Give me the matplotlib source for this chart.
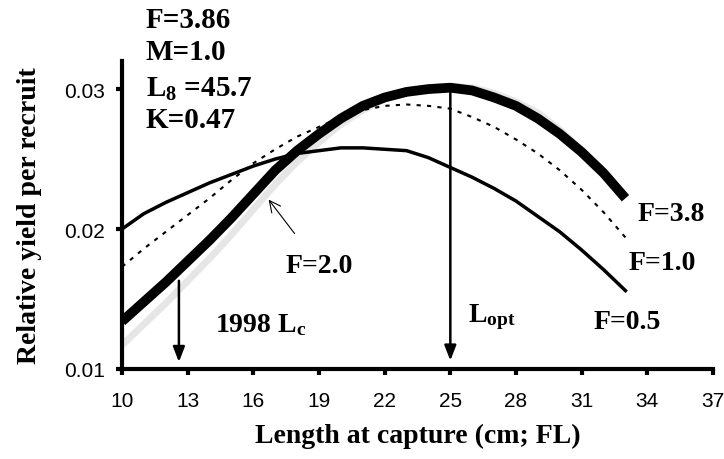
import numpy as np
import matplotlib
matplotlib.use("Agg")
import matplotlib.pyplot as plt

plt.rcParams["font.family"] = "Liberation Serif"
plt.rcParams["mathtext.fontset"] = "custom"
plt.rcParams["mathtext.rm"] = "Liberation Serif:bold"
plt.rcParams["mathtext.it"] = "Liberation Serif:bold"
plt.rcParams["mathtext.bf"] = "Liberation Serif:bold"

length = np.arange(10, 34)

ypr_f05 = [0.0200, 0.0211, 0.0219, 0.0226, 0.0233, 0.0239, 0.0245, 0.0250,
           0.0254, 0.0256, 0.0258, 0.0258, 0.0257, 0.0256, 0.0251, 0.0244,
           0.0237, 0.0229, 0.0220, 0.0209, 0.0198, 0.0185, 0.0171, 0.0156]
ypr_f10 = [0.0173, 0.0186, 0.0198, 0.0210, 0.0222, 0.0235, 0.0247, 0.0257,
           0.0266, 0.0273, 0.0280, 0.0285, 0.0288, 0.0289, 0.0288, 0.0286,
           0.0280, 0.0273, 0.0264, 0.0254, 0.0242, 0.0228, 0.0212, 0.0194]
ypr_f20 = [0.0117, 0.0132, 0.0147, 0.0163, 0.0179, 0.0196, 0.0214, 0.0232,
           0.0248, 0.0262, 0.0275, 0.0285, 0.0293, 0.0298, 0.0301, 0.0302,
           0.0301, 0.0297, 0.0291, 0.0283, 0.0271, 0.0256, 0.0240, 0.0222]
ypr_f38 = [0.0134, 0.0148, 0.0162, 0.0177, 0.0192, 0.0208, 0.0225, 0.0242,
           0.0256, 0.0268, 0.0279, 0.0288, 0.0294, 0.0298, 0.0300, 0.0301,
           0.0299, 0.0294, 0.0288, 0.0279, 0.0268, 0.0255, 0.0240, 0.0222]

x_ticks = [10, 13, 16, 19, 22, 25, 28, 31, 34, 37]
y_ticks = [0.01, 0.02, 0.03]

lc_1998 = 12.6
l_opt = 25.0

fig = plt.figure(figsize=(7.24, 4.6), dpi=100)
ax = fig.add_axes([0.1685, 0.1957, 0.8163, 0.6693])

ax.plot(length, ypr_f20, color="#e6e6e6", lw=5, solid_capstyle="butt", zorder=2)
ax.plot(length, ypr_f38, color="black", lw=7, solid_capstyle="butt", zorder=3)
ax.plot(length, ypr_f05, color="black", lw=2.5, zorder=4)
ax.plot(length, ypr_f10, color="black", lw=1.5, linestyle=(0, (2, 3)), zorder=4)

ax.set_xlim(10, 37)
ax.set_ylim(0.01, 0.032)
ax.set_xticks(x_ticks)
ax.set_yticks(y_ticks)
ax.set_xticklabels([str(t) for t in x_ticks], family="Liberation Sans", fontsize=15)
ax.set_yticklabels(["0.01", "0.02", "0.03"], family="Liberation Sans", fontsize=15)
ax.tick_params(width=3, length=4)
ax.tick_params(axis="x", pad=12)
ax.tick_params(axis="y", pad=8)
for side in ["top", "right"]:
    ax.spines[side].set_visible(False)
for side in ["left", "bottom"]:
    ax.spines[side].set_linewidth(3)

ax.set_xlabel("Length at capture (cm; FL)", fontsize=20, fontweight="bold", labelpad=9)
ax.set_ylabel("Relative yield per recruit", fontsize=20, fontweight="bold", labelpad=16)

# arrows
arrow_kw = dict(arrowstyle="-|>,head_width=0.35,head_length=0.9", color="black", lw=1.8,
                shrinkA=0, shrinkB=0)
ax.annotate("", xy=(lc_1998, 0.0105), xytext=(lc_1998, 0.0163), arrowprops=arrow_kw)
ax.annotate("", xy=(l_opt, 0.0106), xytext=(l_opt, 0.0301), arrowprops=arrow_kw)
ax.annotate("F=2.0", xy=(16.7, 0.0221), xytext=(19.0, 0.0174),
            fontsize=20, fontweight="bold", ha="center", va="center",
            arrowprops=dict(arrowstyle="->", color="black", lw=0.8,
                            shrinkA=15, shrinkB=0))

tkw = dict(fontsize=20, fontweight="bold", va="center")
ax.text(14.25, 0.0132, r"1998 L$_\mathrm{c}$", ha="left", **tkw)
ax.text(25.8, 0.0138, r"L$_\mathrm{opt}$", ha="left", **tkw)
ax.text(35.1, 0.0211, "F=3.8", ha="center", **tkw)
ax.text(34.7, 0.0176, "F=1.0", ha="center", **tkw)
ax.text(33.1, 0.0134, "F=0.5", ha="center", **tkw)

ptx = 146 / 724
pkw = dict(fontsize=21, fontweight="bold", va="center")
fig.text(ptx, 1 - 21 / 460, "F=3.86", **pkw)
fig.text(ptx, 1 - 53 / 460, "M=1.0", **pkw)
fig.text(ptx, 1 - 89 / 460, r"L$_\mathrm{8}$ =45.7", **pkw)
fig.text(ptx, 1 - 121 / 460, "K=0.47", **pkw)

fig.savefig("out.png", dpi=100)
